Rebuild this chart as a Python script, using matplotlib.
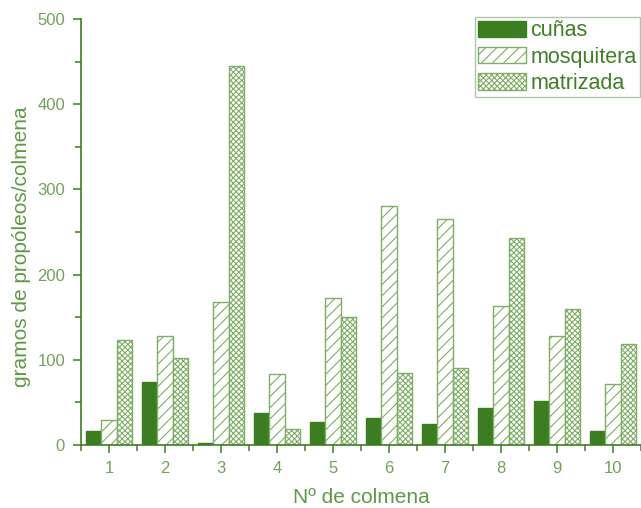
import numpy as np
import matplotlib
matplotlib.use("Agg")
import matplotlib.pyplot as plt

plt.rcParams['font.family'] = ['Liberation Sans', 'DejaVu Sans']
plt.rcParams['hatch.linewidth'] = 0.8

# data
colmenas = np.arange(1, 11)
cunas = [17, 74, 2, 38, 27, 32, 25, 43, 52, 17]
mosquitera = [29, 128, 168, 83, 173, 281, 265, 163, 128, 72]
matrizada = [123, 102, 445, 19, 150, 85, 90, 243, 160, 118]

dark = '#3d7d22'
light = '#7fae66'
txt = '#5f9947'
ticktxt = '#72a25a'

fig = plt.figure(figsize=(6.41, 5.08), dpi=100)
ax = fig.add_axes([0.1264, 0.124, 0.8736, 0.8386])

w = 0.275
ax.bar(colmenas - w, cunas, w, color=dark, edgecolor=dark, linewidth=1, label='cuñas')
ax.bar(colmenas, mosquitera, w, facecolor='white', edgecolor=light, hatch='///',
       linewidth=1, label='mosquitera')
ax.bar(colmenas + w, matrizada, w, facecolor='white', edgecolor=light, hatch='xxxxxx',
       linewidth=1, label='matrizada')

ax.set_xlim(0.5, 10.5)
ax.set_ylim(0, 500)
ax.set_xticks(colmenas)
ax.set_xticks(np.arange(0.5, 11, 1), minor=True)
ax.set_yticks(np.arange(0, 501, 100))
ax.set_yticks(np.arange(50, 500, 100), minor=True)

for s in ['top', 'right']:
    ax.spines[s].set_visible(False)
for s in ['left', 'bottom']:
    ax.spines[s].set_color(dark)
    ax.spines[s].set_linewidth(1.2)

ax.tick_params(which='both', direction='out', color=dark, width=1.1)
ax.tick_params(which='major', length=5.5, labelsize=12, labelcolor=ticktxt, pad=6)
ax.tick_params(which='minor', length=4)

ax.set_xlabel('Nº de colmena', fontsize=15, color=txt)
ax.xaxis.set_label_coords(0.5, -0.1)
ax.set_ylabel('gramos de propóleos/colmena', fontsize=15, color=txt)
ax.yaxis.set_label_coords(-0.09, 0.465)

leg = ax.legend(loc='upper right', bbox_to_anchor=(640 / 641, 1 - 17 / 508),
                bbox_transform=fig.transFigure, fontsize=15.5,
                frameon=True, fancybox=False, borderpad=0.15, labelspacing=0.25,
                handlelength=2.25, handleheight=0.8, handletextpad=0.2,
                borderaxespad=0)
leg.get_frame().set_edgecolor('#9db896')
leg.get_frame().set_linewidth(1)
for t in leg.get_texts():
    t.set_color('#3f7f26')

fig.savefig('out.png', dpi=100)
